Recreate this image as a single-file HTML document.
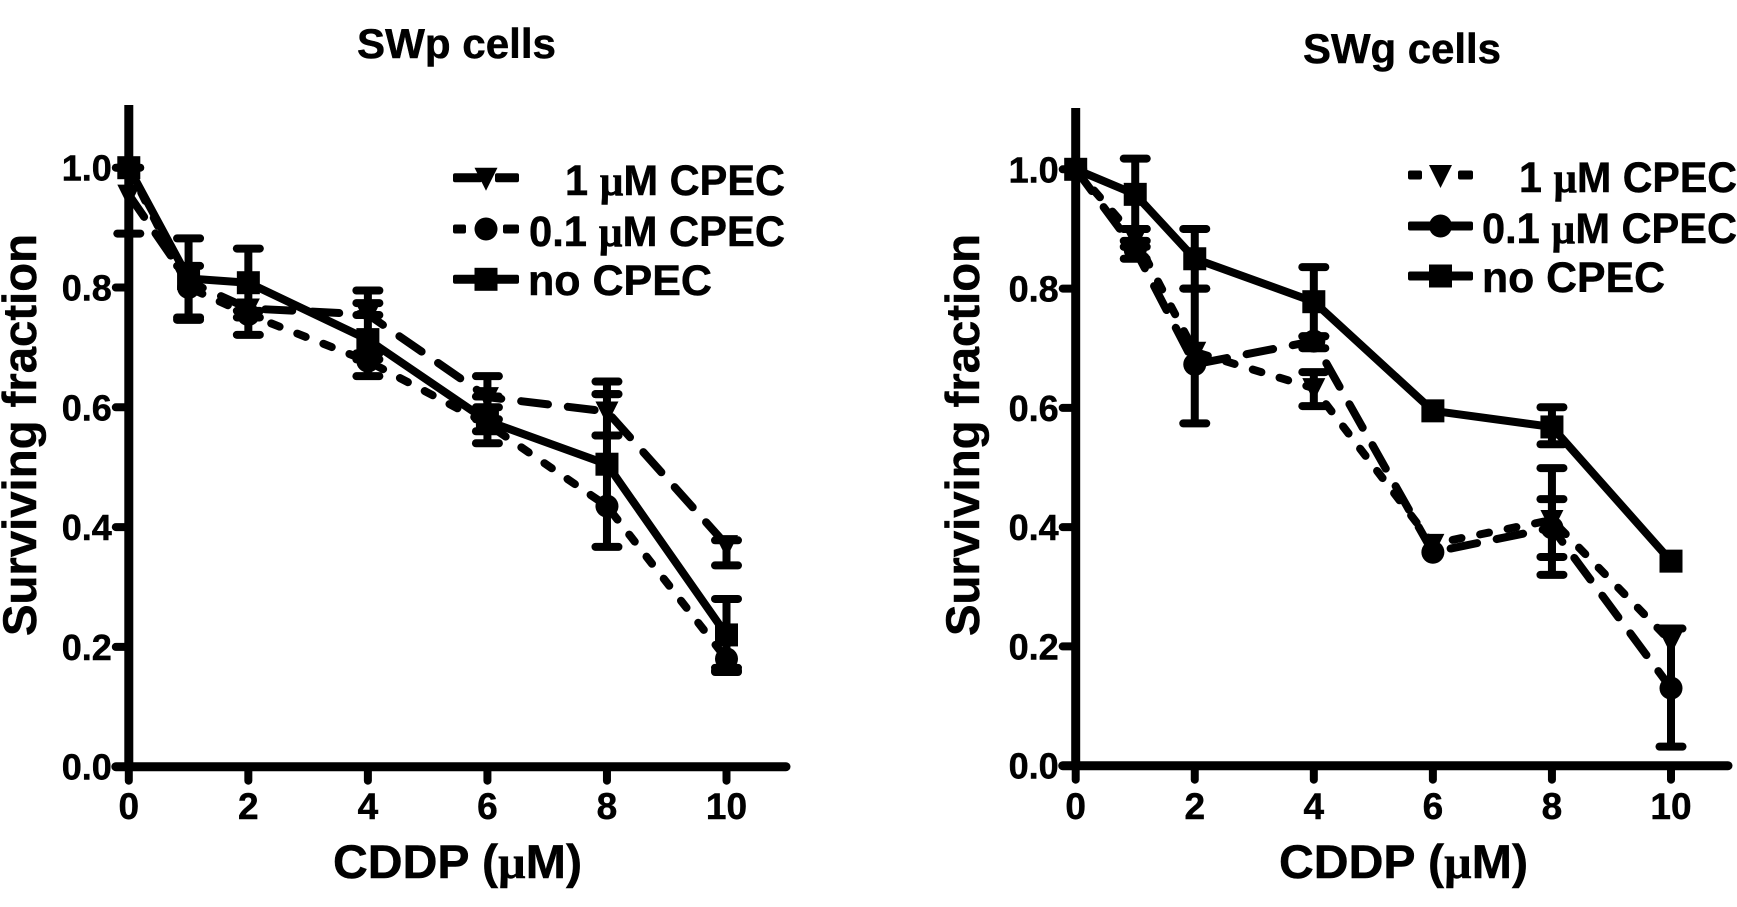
<!DOCTYPE html>
<html lang="en">
<head>
<meta charset="utf-8">
<title>Surviving fraction vs CDDP</title>
<style>
html,body{margin:0;padding:0;background:#fff;width:1737px;height:907px;overflow:hidden}
svg{display:block}
text{font-family:"Liberation Sans",sans-serif;font-weight:700;fill:#000;stroke:#000;stroke-width:.5px}
.mu{font-family:"Liberation Serif",serif;font-weight:700}
</style>
</head>
<body>
<svg id="figure" xmlns="http://www.w3.org/2000/svg" width="1737" height="907" viewBox="0 0 1737 907">
  <rect width="1737" height="907" fill="#fff"/>

  <g id="panelA">
    <text x="357" y="58" font-size="42" textLength="199" lengthAdjust="spacingAndGlyphs">SWp cells</text>
    <text transform="translate(36,636) rotate(-90)" font-size="47" textLength="402" lengthAdjust="spacingAndGlyphs">Surviving fraction</text>
    <text x="333" y="878" font-size="47" textLength="249" lengthAdjust="spacingAndGlyphs">CDDP (<tspan class="mu">µ</tspan>M)</text>
    <g>
      <text x="565" y="195" font-size="43" textLength="220" lengthAdjust="spacingAndGlyphs">1 <tspan class="mu">µ</tspan>M CPEC</text>
      <text x="529" y="246" font-size="43" textLength="256" lengthAdjust="spacingAndGlyphs">0.1 <tspan class="mu">µ</tspan>M CPEC</text>
      <text x="528" y="295" font-size="43" textLength="184" lengthAdjust="spacingAndGlyphs">no CPEC</text>
    </g>
  </g>

  <g id="panelB">
    <text x="1303" y="63" font-size="42" textLength="198" lengthAdjust="spacingAndGlyphs">SWg cells</text>
    <text transform="translate(979,636) rotate(-90)" font-size="47" textLength="402" lengthAdjust="spacingAndGlyphs">Surviving fraction</text>
    <text x="1279" y="878" font-size="47" textLength="249" lengthAdjust="spacingAndGlyphs">CDDP (<tspan class="mu">µ</tspan>M)</text>
    <g>
      <text x="1519" y="192" font-size="43" textLength="218" lengthAdjust="spacingAndGlyphs">1 <tspan class="mu">µ</tspan>M CPEC</text>
      <text x="1482" y="243" font-size="43" textLength="255" lengthAdjust="spacingAndGlyphs">0.1 <tspan class="mu">µ</tspan>M CPEC</text>
      <text x="1482" y="292" font-size="43" textLength="183" lengthAdjust="spacingAndGlyphs">no CPEC</text>
    </g>
  </g>
</svg>
<script>
// Shared data
var doses = [0, 1, 2, 4, 6, 8, 10];
var xTickValues = [0, 2, 4, 6, 8, 10];
var xTickLabels = ['0', '2', '4', '6', '8', '10'];
var yTickValues = [0, 0.2, 0.4, 0.6, 0.8, 1.0];
var yTickLabels = ['0.0', '0.2', '0.4', '0.6', '0.8', '1.0'];

// SWp cells
var swpOneValues = [0.955, 0.81, 0.765, 0.755, 0.617, 0.593, 0.37];
var swpOneHigh = [1.0, 0.81, 0.765, 0.795, 0.652, 0.643, 0.378];
var swpOneLow = [0.89, 0.81, 0.765, 0.754, 0.60, 0.622, 0.336];
var swpTenthValues = [1.0, 0.80, 0.755, 0.677, 0.572, 0.435, 0.18];
var swpTenthHigh = [1.0, 0.836, 0.761, 0.68, 0.58, 0.553, 0.165];
var swpTenthLow = [1.0, 0.746, 0.721, 0.652, 0.54, 0.367, 0.158];
var swpNoneValues = [1.0, 0.815, 0.808, 0.713, 0.577, 0.505, 0.22];
var swpNoneHigh = [1.0, 0.882, 0.865, 0.774, 0.618, 0.622, 0.28];
var swpNoneLow = [1.0, 0.75, 0.75, 0.69, 0.56, 0.553, 0.16];

// SWg cells
var swgOneValues = [1.0, 0.885, 0.694, 0.633, 0.372, 0.412, 0.208];
var swgOneHigh = [1.0, 0.90, 0.694, 0.66, 0.372, 0.447, 0.208];
var swgOneLow = [1.0, 0.87, 0.694, 0.603, 0.372, 0.35, 0.208];
var swgTenthValues = [1.0, 0.865, 0.673, 0.712, 0.358, 0.399, 0.13];
var swgTenthHigh = [1.0, 0.88, 0.80, 0.72, 0.358, 0.499, 0.23];
var swgTenthLow = [1.0, 0.85, 0.574, 0.70, 0.358, 0.32, 0.032];
var swgNoneValues = [1.0, 0.958, 0.85, 0.778, 0.595, 0.568, 0.343];
var swgNoneHigh = [1.0, 1.018, 0.90, 0.836, 0.595, 0.601, 0.343];
var swgNoneLow = [1.0, 0.90, 0.80, 0.72, 0.595, 0.539, 0.343];

var SVGNS = 'http://www.w3.org/2000/svg';
var SHORT_DASH = '9 19';
var LONG_DASH = '27 20';

function make(parent, tag, attrs) {
  var el = document.createElementNS(SVGNS, tag);
  for (var k in attrs) el.setAttribute(k, attrs[k]);
  parent.appendChild(el);
  return el;
}

function makeScales(x0, xUnit, y0, yUnit) {
  return {
    x: function (v) { return x0 + v * xUnit; },
    y: function (v) { return y0 - v * yUnit; }
  };
}

function drawMarker(parent, kind, cx, cy, prefix) {
  var m;
  if (kind === 'square') {
    m = make(parent, 'rect', { x: cx - 11.5, y: cy - 11.5, width: 23, height: 23, fill: '#000' });
  } else if (kind === 'circle') {
    m = make(parent, 'circle', { cx: cx, cy: cy, r: 11.5, fill: '#000' });
  } else {
    m = make(parent, 'polygon', {
      points: (cx - 11.5) + ',' + (cy - 10) + ' ' + (cx + 11.5) + ',' + (cy - 10) + ' ' + cx + ',' + (cy + 13),
      fill: '#000'
    });
  }
  
  
}

function drawAxes(group, scale, cfg) {
  var yAxis = make(group, 'line', { x1: scale.x(0), x2: scale.x(0), y1: cfg.top, y2: scale.y(0), stroke: '#000', 'stroke-width': 9 });
  
  
  var xAxis = make(group, 'line', { x1: scale.x(0) - 13, x2: cfg.right, y1: scale.y(0), y2: scale.y(0), stroke: '#000', 'stroke-width': 9, 'stroke-linecap': 'round' });
  
  

  yTickValues.forEach(function (v, i) {
    var t = make(group, 'line', { x1: scale.x(0) - 13, x2: scale.x(0), y1: scale.y(v), y2: scale.y(v), stroke: '#000', 'stroke-width': 8, 'stroke-linecap': 'round' });
    
    
    var l = make(group, 'text', { x: scale.x(0) - 17, y: scale.y(v) + 13, 'font-size': 36, 'text-anchor': 'end' });
    l.textContent = yTickLabels[i];
    
    
  });

  xTickValues.forEach(function (v, i) {
    var t = make(group, 'line', { x1: scale.x(v), x2: scale.x(v), y1: scale.y(0), y2: scale.y(0) + 14, stroke: '#000', 'stroke-width': 8, 'stroke-linecap': 'round' });
    
    
    var l = make(group, 'text', { x: scale.x(v), y: 819, 'font-size': 37, 'text-anchor': 'middle' });
    l.textContent = xTickLabels[i];
    
    
  });
}

function drawSeries(group, scale, s, prefix) {
  var g = make(group, 'g', {});
  
  

  var pts = doses.map(function (d, i) { return scale.x(d) + ',' + scale.y(s.values[i]); }).join(' ');
  var attrs = { points: pts, fill: 'none', stroke: '#000', 'stroke-width': 8, 'stroke-linecap': 'round', 'stroke-linejoin': 'round' };
  if (s.dash) attrs['stroke-dasharray'] = s.dash;
  var line = make(g, 'polyline', attrs);
  
  

  doses.forEach(function (d, i) {
    var cx = scale.x(d);
    var hi = scale.y(s.high[i]);
    var lo = scale.y(s.low[i]);
    if (s.high[i] !== s.low[i]) {
      var stem = make(g, 'line', { x1: cx, x2: cx, y1: hi, y2: lo, stroke: '#000', 'stroke-width': 8 });
      
      
      [hi, lo].forEach(function (cy) {
        var cap = make(g, 'line', { x1: cx - 11.5, x2: cx + 11.5, y1: cy, y2: cy, stroke: '#000', 'stroke-width': 8, 'stroke-linecap': 'round' });
        
        
      });
    }
    drawMarker(g, s.kind, cx, scale.y(s.values[i]), prefix);
  });
}

function drawLegendKey(group, x1, x2, y, kind, segments, prefix) {
  segments.forEach(function (seg) {
    var r = make(group, 'rect', { x: seg[0], y: y - 4.5, width: seg[1] - seg[0], height: 9, rx: 2, fill: '#000' });
    
    
  });
  drawMarker(group, kind, (x1 + x2) / 2, y, prefix + '-legend');
}

// Left panel
var panelA = document.getElementById('panelA');
var scaleA = makeScales(128.8, 59.77, 766.7, 599);
drawAxes(panelA, scaleA, { name: 'swp', top: 105, right: 786 });
drawSeries(panelA, scaleA, { kind: 'triangle', dash: LONG_DASH, values: swpOneValues, high: swpOneHigh, low: swpOneLow }, 'swp-1um');
drawSeries(panelA, scaleA, { kind: 'circle', dash: SHORT_DASH, values: swpTenthValues, high: swpTenthHigh, low: swpTenthLow }, 'swp-01um');
drawSeries(panelA, scaleA, { kind: 'square', dash: null, values: swpNoneValues, high: swpNoneHigh, low: swpNoneLow }, 'swp-none');
drawLegendKey(panelA, 453, 519, 177.7, 'triangle', [[453, 482], [495, 519]], 'swp-1um');
drawLegendKey(panelA, 453, 519, 229, 'circle', [[453, 466], [503, 519]], 'swp-01um');
drawLegendKey(panelA, 453, 519, 279.3, 'square', [[453, 519]], 'swp-none');

// Right panel
var panelB = document.getElementById('panelB');
var scaleB = makeScales(1075.7, 59.53, 765.7, 596.4);
drawAxes(panelB, scaleB, { name: 'swg', top: 108, right: 1728 });
drawSeries(panelB, scaleB, { kind: 'triangle', dash: SHORT_DASH, values: swgOneValues, high: swgOneHigh, low: swgOneLow }, 'swg-1um');
drawSeries(panelB, scaleB, { kind: 'circle', dash: LONG_DASH, values: swgTenthValues, high: swgTenthHigh, low: swgTenthLow }, 'swg-01um');
drawSeries(panelB, scaleB, { kind: 'square', dash: null, values: swgNoneValues, high: swgNoneHigh, low: swgNoneLow }, 'swg-none');
drawLegendKey(panelB, 1408, 1473, 175, 'triangle', [[1408, 1422], [1458, 1473]], 'swg-1um');
drawLegendKey(panelB, 1408, 1473, 226, 'circle', [[1408, 1473]], 'swg-01um');
drawLegendKey(panelB, 1408, 1473, 276, 'square', [[1408, 1473]], 'swg-none');
</script>
</body>
</html>
